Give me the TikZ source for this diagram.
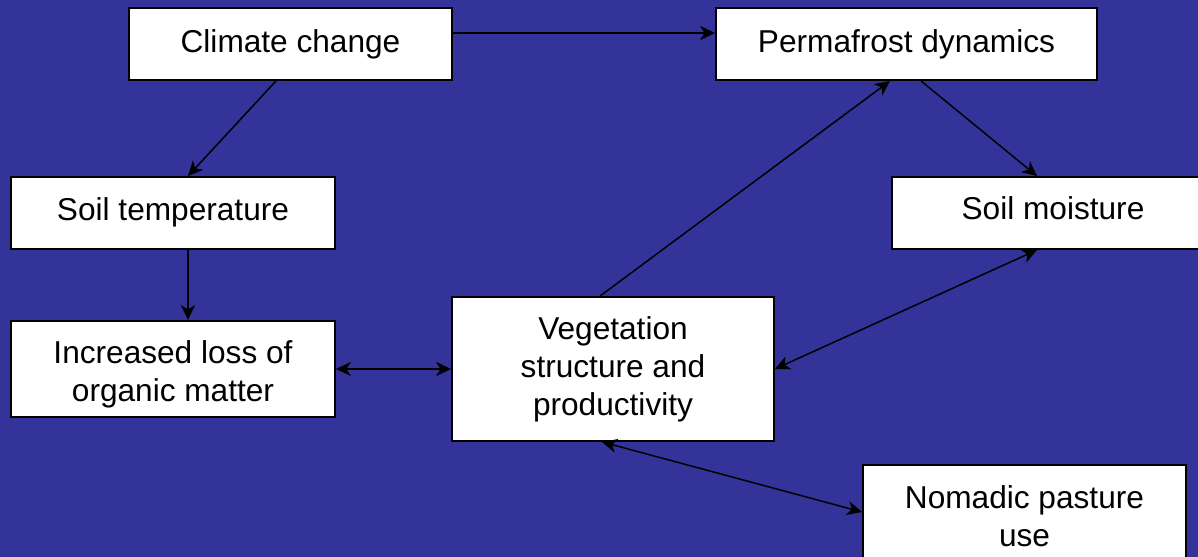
\documentclass[tikz,border=0pt]{standalone}
\usepackage{fontspec}
\setmainfont{Liberation Sans}
\usetikzlibrary{arrows.meta,positioning}
\definecolor{slideblue}{RGB}{51,51,153}

\begin{document}
\begin{tikzpicture}[x=0.02cm,y=-0.02cm,
    factor/.style={rectangle, draw=black, fill=white, line width=1.1pt, align=center, inner sep=2pt, font=\fontsize{18}{21.6}\selectfont},
    link/.style={-{Stealth[length=8.5pt,width=8pt,inset=2.5pt]}, line width=0.85pt},
    twoway/.style={{Stealth[length=8.5pt,width=8pt,inset=2.5pt]}-{Stealth[length=8.5pt,width=8pt,inset=2.5pt]}, line width=0.85pt}]
    \useasboundingbox[fill=slideblue] (0,0) rectangle (1198,557);
    \node[factor, minimum width=6.46cm, minimum height=1.44cm] (cc) at (290.5,44) {Climate change};
    \node[factor, minimum width=7.62cm, minimum height=1.44cm] (pf) at (906.5,44) {Permafrost dynamics};
    \node[factor, minimum width=6.48cm, minimum height=1.44cm, text height=13pt, text depth=5pt] (st) at (173,213) {Soil temperature};
    \node[factor, minimum width=6.44cm, minimum height=1.44cm, text height=13pt, text depth=6pt] (sm) at (1053,213) {Soil moisture};
    \node[factor, minimum width=6.48cm, minimum height=1.92cm] (om) at (173,369) {\rule{0pt}{18.7pt}Increased loss of\\organic matter};
    \node[factor, minimum width=6.44cm, minimum height=2.88cm] (veg) at (613,369) {Vegetation\\structure and\\productivity};
    \node[factor, minimum width=6.46cm, minimum height=2.04cm] (np) at (1024.5,516) {Nomadic pasture\\use};
    \draw[link] ([yshift=0.22cm]cc.east) -- ([yshift=0.22cm]pf.west);
    \draw[link] ([xshift=-0.29cm]cc.south) -- ([xshift=0.3cm]st.north);
    \draw[link] ([xshift=0.3cm]st.south) -- ([xshift=0.3cm]om.north);
    \draw[twoway] (om.east) -- (veg.west);
    \draw[link] ([xshift=-0.26cm]veg.north) -- ([xshift=-0.33cm]pf.south);
    \draw[link] ([xshift=0.29cm]pf.south) -- ([xshift=-0.32cm]sm.north);
    \draw[twoway] (veg.east) -- ([xshift=-0.32cm]sm.south);
    \draw[twoway] ([xshift=-0.22cm]veg.south) -- ([yshift=0.08cm]np.west);
\end{tikzpicture}
\end{document}
